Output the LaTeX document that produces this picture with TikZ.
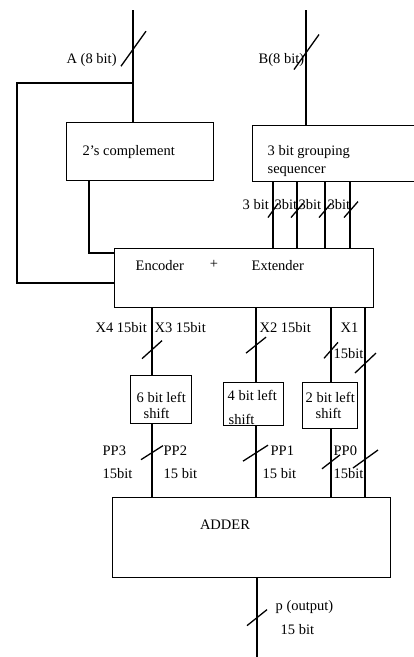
\documentclass[tikz,border=0pt]{standalone}
\usepackage{fontspec}
\setmainfont{Liberation Serif}

\begin{document}
\begin{tikzpicture}[x=1pt,y=-1pt,line width=1.3pt,
    blk/.style={draw,anchor=north west,inner sep=0pt},
    lbl/.style={anchor=west,inner sep=0pt},
    font=\fontsize{14.5}{16}\selectfont]
\useasboundingbox (0,0) rectangle (414,657);
\path
    (66,122) node [blk,minimum width=147pt,minimum height=58pt] (cmpl) {}
    (252,125) node [blk,minimum width=170pt,minimum height=56pt] (grp) {}
    (114,248) node [blk,minimum width=259pt,minimum height=59pt] (enc) {}
    (130,375) node [blk,minimum width=61pt,minimum height=48pt] (sh6) {}
    (223,382) node [blk,minimum width=60pt,minimum height=43pt] (sh4) {}
    (302,382) node [blk,minimum width=55pt,minimum height=46pt] (sh2) {}
    (112,497) node [blk,minimum width=278pt,minimum height=80pt] (adder) {};
\path
    (82,152) node [lbl] (tcmpl) {2's complement}
    (267,152) node [lbl] (tgrp1) {3 bit grouping}
    (267,172) node [lbl] (tgrp2) {sequencer}
    (135,266) node [lbl] (tenc) {Encoder}
    (214,264) node (tplus) {+}
    (251,266) node [lbl] (text) {Extender}
    (136,397) node [lbl] (tsh6a) {6 bit left}
    (143,413) node [lbl] (tsh6b) {shift}
    (227,395) node [lbl] (tsh4a) {4 bit left}
    (228,419) node [lbl] (tsh4b) {shift}
    (305,397) node [lbl] (tsh2a) {2 bit left}
    (315,413) node [lbl] (tsh2b) {shift}
    (225,525) node (tadder) {ADDER};
\coordinate (ina) at (133,10);
\coordinate (abr) at (133,83);
\coordinate (aleft) at (17,283);
\coordinate (cdown) at (89,253);
\coordinate (inb) at (306,10);
\coordinate (outp) at (257,657);
% inputs
\draw (ina) -- coordinate [pos=.35] (sa) (ina |- cmpl.north);
\draw (sa) +(-12,17) -- +(13,-18);
\path (66,60) node [lbl] (la) {A (8 bit)};
\draw (abr) -| (aleft) -- (aleft -| enc.west);
\draw (cdown |- cmpl.south) -- (cdown) -- (cdown -| enc.west);
\draw (inb) -- coordinate [pos=.37] (sb) (inb |- grp.north);
\draw (sb) +(-12,17) -- +(13,-18);
\path (258,60) node [lbl] (lb) {B(8 bit)};
% grouping to encoder
\draw (grp.south -| 273,0) -- coordinate [pos=.43] (g1) (enc.north -| 273,0);
\draw (grp.south -| 297,0) -- coordinate [pos=.43] (g2) (enc.north -| 297,0);
\draw (grp.south -| 325,0) -- coordinate [pos=.43] (g3) (enc.north -| 325,0);
\draw (grp.south -| 350,0) -- coordinate [pos=.43] (g4) (enc.north -| 350,0);
\draw (g1) +(-5,7) -- +(5,-7);
\draw (g2) +(-6,7) -- +(6,-7);
\draw (g3) +(-6,7) -- +(6,-7);
\draw (g4) +(-6,7) -- +(8,-9);
\path
    (242,205) node [lbl] (l31) {3 bit}
    (274,205) node [lbl] (l32) {3bit}
    (298,205) node [lbl] (l33) {3bit}
    (327,205) node [lbl] (l34) {3bit};
% encoder outputs
\draw (enc.south -| 152,0) -- coordinate [pos=.62] (x4) (sh6.north -| 152,0);
\draw (enc.south -| 256,0) -- coordinate [pos=.5] (x2) (sh4.north -| 256,0);
\draw (enc.south -| 331,0) -- coordinate [pos=.57] (x1) (sh2.north -| 331,0);
\draw (enc.south -| 365,0) -- coordinate [pos=.29] (x0) (adder.north -| 365,0)
    coordinate [pos=.8] (p0b);
\draw (x4) +(-10,9) -- +(10,-9);
\draw (x2) +(-10,8) -- +(10,-8);
\draw (x1) +(-7,8) -- +(7,-8);
\draw (x0) +(-10,10) -- +(11,-10);
\path
    (95,328) node [lbl] (lx4) {X4 15bit}
    (154,328) node [lbl] (lx3) {X3 15bit}
    (259,328) node [lbl] (lx2) {X2 15bit}
    (340,328) node [lbl] (lx1) {X1}
    (333,354) node [lbl] (lx1b) {15bit};
% partial products
\draw (sh6.south -| 152,0) -- coordinate [pos=.39] (pp3) (adder.north -| 152,0);
\draw (sh4.south -| 256,0) -- coordinate [pos=.38] (pp1) (adder.north -| 256,0);
\draw (sh2.south -| 331,0) -- coordinate [pos=.48] (pp0) (adder.north -| 331,0);
\draw (pp3) +(-11,7) -- +(11,-7);
\draw (pp1) +(-13,8) -- +(12,-8);
\draw (pp0) +(-9,7) -- +(9,-7);
\path (365,459) coordinate (p0c);
\draw (p0c) +(-12,9) -- +(13,-9);
\path
    (102,451) node [lbl] (lp3) {PP3}
    (102,474) node [lbl] (lp3b) {15bit}
    (163,451) node [lbl] (lp2) {PP2}
    (163,474) node [lbl] (lp2b) {15 bit}
    (270,451) node [lbl] (lp1) {PP1}
    (262,474) node [lbl] (lp1b) {15 bit}
    (333,451) node [lbl] (lp0) {PP0}
    (333,474) node [lbl] (lp0b) {15bit};
% output
\draw (adder.south -| outp) -- coordinate [pos=.5] (po) (outp);
\draw (po) +(-10,8) -- +(10,-8);
\path
    (275,607) node [lbl] (lout) {p (output)}
    (280,630) node [lbl] (loutb) {15 bit};
\end{tikzpicture}
\end{document}
